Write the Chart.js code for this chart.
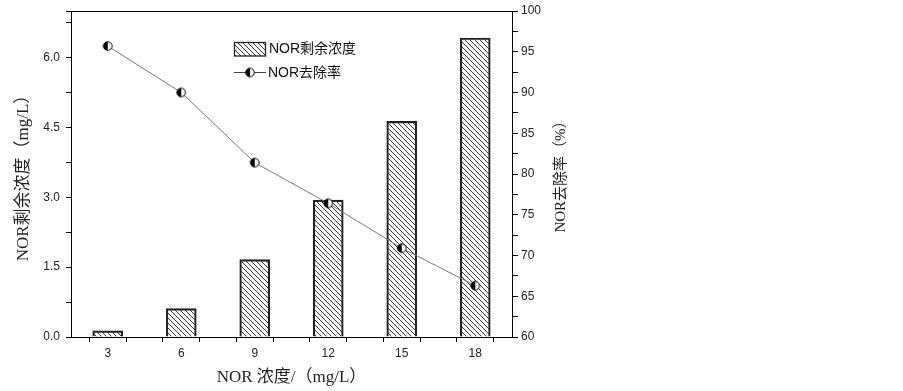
<!DOCTYPE html>
<html><head><meta charset="utf-8">
<script src="https://cdn.jsdelivr.net/npm/chart.js@4.4.1/dist/chart.umd.min.js"></script>
<style>html,body{margin:0;padding:0;background:#fff;}#wrap{width:903px;height:391px;}</style>
</head><body><div id="wrap"><canvas id="c" width="903" height="391"></canvas></div>
<script>
const categories = [3, 6, 9, 12, 15, 18];
const residualConc = [0.13, 0.61, 1.66, 2.94, 4.63, 6.42];
const removalRate = [95.7, 90.0, 81.4, 76.4, 70.9, 66.3];
const seriesNames = ['NOR剩余浓度', 'NOR去除率'];
const xTickLabels = ['3', '6', '9', '12', '15', '18'];
const leftTickLabels = ['0.0', '1.5', '3.0', '4.5', '6.0'];
const rightTickLabels = ['60', '65', '70', '75', '80', '85', '90', '95', '100'];
const xTitle = 'NOR 浓度/（mg/L）';
const leftTitle = 'NOR剩余浓度（mg/L）';
const rightTitle = 'NOR去除率（%）';

const canvas = document.getElementById('c');
const ctx0 = canvas.getContext('2d');

function makeHatch() {
  const s = 5, c = document.createElement('canvas');
  c.width = s; c.height = s;
  const g = c.getContext('2d');
  g.strokeStyle = '#333'; g.lineWidth = 1;
  g.beginPath();
  g.moveTo(-1, -1); g.lineTo(s + 1, s + 1);
  g.moveTo(s - 1, -1); g.lineTo(s + 1, 1);
  g.moveTo(-1, s - 1); g.lineTo(1, s + 1);
  g.stroke();
  return ctx0.createPattern(c, 'repeat');
}
function makeDot() {
  const s = 12, r = 4.3, cx = s / 2, c = document.createElement('canvas');
  c.width = s; c.height = s;
  const g = c.getContext('2d');
  g.fillStyle = '#fff'; g.beginPath(); g.arc(cx, cx, r, 0, Math.PI * 2); g.fill();
  g.fillStyle = '#000'; g.beginPath(); g.arc(cx, cx, r, Math.PI / 2, Math.PI * 1.5); g.closePath(); g.fill();
  g.strokeStyle = '#000'; g.lineWidth = 1; g.beginPath(); g.arc(cx, cx, r, 0, Math.PI * 2); g.stroke();
  return c;
}
const hatch = makeHatch();
const dot = makeDot();

const near = (v, step) => Math.abs(v / step - Math.round(v / step)) < 1e-6;

const extras = {
  id: 'extras',
  afterDraw(chart) {
    const { ctx, chartArea: a } = chart;
    ctx.save();
    ctx.strokeStyle = '#000'; ctx.lineWidth = 1;
    ctx.beginPath();
    const ty = Math.round(a.top) + 0.5;
    ctx.moveTo(a.left, ty); ctx.lineTo(a.right, ty); ctx.stroke();
    ctx.fillStyle = '#222';
    ctx.font = '15px "Liberation Serif", "Noto Sans CJK SC"';
    ctx.textAlign = 'center'; ctx.textBaseline = 'middle';
    ctx.translate(561, 173); ctx.rotate(-Math.PI / 2);
    ctx.fillText(rightTitle, 0, 0);
    ctx.restore();
    ctx.save();
    ctx.fillStyle = '#fff';
    ctx.fillRect(234.5, 42.5, 31, 13.5);
    ctx.fillStyle = hatch;
    ctx.fillRect(234.5, 42.5, 31, 13.5);
    ctx.strokeStyle = '#222'; ctx.lineWidth = 1.3;
    ctx.strokeRect(234.5, 42.5, 31, 13.5);
    ctx.strokeStyle = '#444'; ctx.lineWidth = 1;
    ctx.beginPath(); ctx.moveTo(234, 72.5); ctx.lineTo(266, 72.5); ctx.stroke();
    ctx.drawImage(dot, 250 - 6, 72.5 - 6);
    ctx.fillStyle = '#111';
    ctx.font = '14px "Liberation Sans", "Noto Sans CJK SC"';
    ctx.textAlign = 'left'; ctx.textBaseline = 'middle';
    ctx.fillText(seriesNames[0], 269, 49.5);
    ctx.fillText(seriesNames[1], 268, 73);
    ctx.restore();
  }
};

const tickFont = { family: '"Liberation Sans", Arial, sans-serif', size: 12 };

new Chart(canvas, {
  type: 'bar',
  data: {
    datasets: [
      {
        type: 'line',
        label: seriesNames[1],
        data: categories.map((x, i) => ({ x, y: removalRate[i] })),
        xAxisID: 'x', yAxisID: 'y1',
        borderColor: '#777', borderWidth: 1, tension: 0,
        pointStyle: dot, pointRadius: 5, order: 0
      },
      {
        type: 'bar',
        label: seriesNames[0],
        data: categories.map((x, i) => ({ x, y: residualConc[i] })),
        xAxisID: 'x', yAxisID: 'y',
        backgroundColor: hatch, borderColor: '#222', borderWidth: 1.5,
        barThickness: 30, order: 1
      }
    ]
  },
  options: {
    responsive: false, animation: false, devicePixelRatio: 1,
    layout: { padding: { top: 11, right: 331, bottom: 0, left: 0 } },
    plugins: { legend: { display: false }, tooltip: { enabled: false } },
    scales: {
      x: {
        type: 'linear', position: 'bottom', min: 1.5, max: 19.5, offset: false,
        afterFit(s) { s.height = 54; },
        ticks: {
          stepSize: 1.5, autoSkip: false, maxRotation: 0, padding: 4, color: '#222', font: tickFont,
          callback(v) { const i = categories.indexOf(Math.round(v * 100) / 100); return i >= 0 ? xTickLabels[i] : ''; }
        },
        grid: { drawOnChartArea: false, tickLength: 5, tickColor: '#000' },
        border: { color: '#000', width: 1 },
        title: { display: true, text: xTitle, color: '#222', padding: { top: 0, bottom: 3 },
          font: { family: '"Liberation Serif", "Noto Sans CJK SC"', size: 17 } }
      },
      y: {
        position: 'left', min: 0, max: 7,
        afterFit(s) { s.width = 71; s.paddingTop = 0; s.paddingBottom = 0; },
        ticks: {
          stepSize: 0.75, padding: 6, color: '#222', font: tickFont, autoSkip: false,
          callback(v) { if (!near(v, 1.5)) return ''; const i = Math.round(v / 1.5); return leftTickLabels[i] || ''; }
        },
        grid: { drawOnChartArea: false, tickLength: 5, tickColor: '#000' },
        border: { color: '#000', width: 1 },
        title: { display: true, text: leftTitle, color: '#222', padding: { top: 13, bottom: 0 },
          font: { family: '"Liberation Serif", "Noto Sans CJK SC"', size: 17 } }
      },
      y1: {
        position: 'right', min: 60, max: 100,
        afterFit(s) { s.width = 60; s.paddingTop = 0; s.paddingBottom = 0; },
        ticks: {
          stepSize: 2.5, padding: 3, color: '#222', font: tickFont, autoSkip: false,
          callback(v) { if (!near(v, 5)) return ''; const i = Math.round((v - 60) / 5); return rightTickLabels[i] || ''; }
        },
        grid: { drawOnChartArea: false, tickLength: 6, tickColor: '#000' },
        border: { color: '#000', width: 1 }
      }
    }
  },
  plugins: [extras]
});
</script></body></html>
